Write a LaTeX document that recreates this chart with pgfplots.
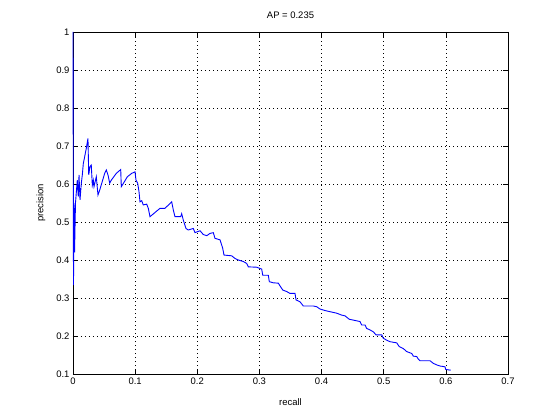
\documentclass[border=0pt]{standalone}
\usepackage{pgfplots}
\pgfplotsset{compat=1.18}
\usepackage{fontspec}
\setmainfont{Liberation Sans}
\begin{document}
\begin{tikzpicture}
\useasboundingbox (-73bp,-46bp) rectangle (487bp,374bp);
\begin{axis}[
  at={(0,0)}, anchor=south west,
  scale only axis, width=435bp, height=342bp,
  xmin=0, xmax=0.7, ymin=0.1, ymax=1,
  xtick={0,0.1,...,0.7}, ytick={0.1,0.2,...,1},
  xticklabels={0,0.1,0.2,0.3,0.4,0.5,0.6,0.7},
  yticklabels={0.1,0.2,0.3,0.4,0.5,0.6,0.7,0.8,0.9,1},
  tick align=inside, major tick length=5bp,
  tick style={black, line width=0.5bp},
  axis line style={black, line width=0.6bp},
  grid=major,
  major grid style={black, line width=0.6bp, dash pattern=on 0.8bp off 3.2bp},
  font=\fontsize{9.5}{11}\selectfont,
  tick label style={font=\fontsize{9.5}{11}\selectfont},
  /pgf/number format/assume math mode=true,
  xlabel={recall},
  xlabel style={at={(axis description cs:0.5,-0.0819)}, anchor=center},
  ylabel={precision},
  ylabel style={at={(axis description cs:-0.0736,0.5)}, anchor=center},
  clip=false,
]
\node[anchor=base, font=\fontsize{9.5}{11}\selectfont, inner sep=0pt] at (axis description cs:0.5,1.04) {AP = 0.235};
\addplot[color={rgb,1:red,0;green,0;blue,1}, line width=0.9bp, mark=none] coordinates {
(0,1.0) (0.0008,0.334) (0.0016,0.55) (0.0025,0.42) (0.004,0.55)
(0.0069,0.61) (0.0085,0.567) (0.0097,0.624) (0.0113,0.558) (0.0134,0.602)
(0.015,0.624) (0.0166,0.654) (0.0188,0.672) (0.0214,0.694) (0.0241,0.720)
(0.0253,0.624) (0.0274,0.646) (0.0294,0.650) (0.0311,0.597) (0.0327,0.610)
(0.0338,0.593) (0.0375,0.619) (0.0402,0.571) (0.043,0.584) (0.051,0.628)
(0.0536,0.637) (0.0563,0.624) (0.0591,0.602) (0.0616,0.610) (0.0697,0.628)
(0.0768,0.638) (0.0777,0.593) (0.0805,0.600) (0.0874,0.619) (0.0945,0.628)
(0.0998,0.632) (0.1014,0.610) (0.1041,0.602) (0.1062,0.580) (0.1078,0.553)
(0.1106,0.556) (0.1131,0.545) (0.1186,0.547) (0.1212,0.536) (0.1239,0.514)
(0.14,0.536) (0.148,0.536) (0.1588,0.553) (0.1614,0.532) (0.1641,0.514)
(0.1733,0.514) (0.1749,0.522) (0.1775,0.505) (0.1818,0.483) (0.1855,0.479)
(0.1936,0.483) (0.1963,0.472) (0.2044,0.477) (0.2097,0.467) (0.2152,0.464)
(0.2205,0.470) (0.2258,0.472) (0.2285,0.457) (0.2366,0.453) (0.2409,0.431)
(0.243,0.413) (0.2554,0.411) (0.2607,0.404) (0.266,0.400) (0.2741,0.396)
(0.2795,0.391) (0.2821,0.382) (0.2956,0.381) (0.3037,0.376) (0.3053,0.360)
(0.3143,0.360) (0.3159,0.343) (0.3223,0.340) (0.3304,0.339) (0.3331,0.332)
(0.3375,0.321) (0.3439,0.317) (0.3492,0.312) (0.3573,0.312) (0.3589,0.295)
(0.3653,0.290) (0.3706,0.279) (0.3867,0.279) (0.3922,0.277) (0.3975,0.271)
(0.4055,0.267) (0.4136,0.264) (0.4244,0.260) (0.4324,0.255) (0.4377,0.253)
(0.4446,0.244) (0.4565,0.240) (0.4619,0.238) (0.4645,0.229) (0.4699,0.229)
(0.4726,0.220) (0.4779,0.216) (0.4833,0.211) (0.4876,0.203) (0.4968,0.203)
(0.4994,0.194) (0.5048,0.189) (0.5101,0.185) (0.5209,0.182) (0.5251,0.172)
(0.5315,0.167) (0.537,0.159) (0.5451,0.154) (0.5476,0.147) (0.5531,0.146)
(0.5557,0.139) (0.5584,0.135) (0.5745,0.135) (0.5798,0.128) (0.5853,0.124)
(0.5906,0.121) (0.5986,0.119) (0.5998,0.112) (0.6078,0.110)
};
\end{axis}
\end{tikzpicture}
\end{document}
